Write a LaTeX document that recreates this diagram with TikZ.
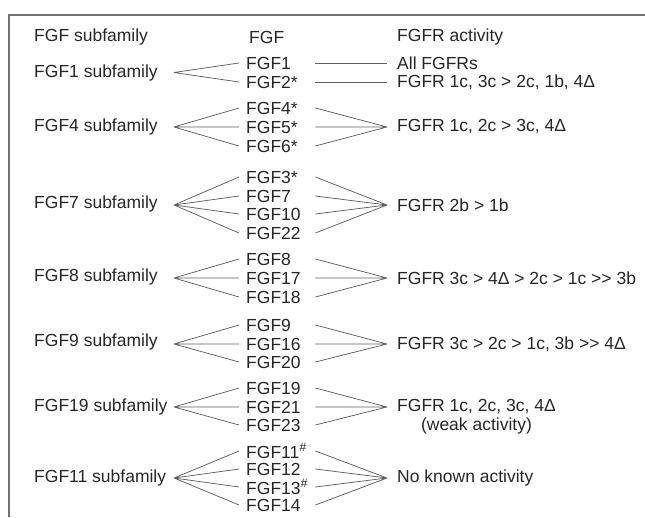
\documentclass[tikz,border=0pt]{standalone}
\usepackage{fontspec}
\setmainfont{Liberation Sans}
\usetikzlibrary{positioning}

\begin{document}
\begin{tikzpicture}[x=1pt,y=-1pt,
    font=\fontsize{17.5}{19}\selectfont, text=black!85,
    lbl/.style={anchor=west, inner sep=0pt},
    fgf/.style={anchor=west, text width=62pt, inner xsep=7pt, inner ysep=0pt, align=left},
    act/.style={anchor=west, inner xsep=10pt, inner ysep=0pt},
    link/.style={draw=black!62, line width=0.75pt}]
    \useasboundingbox (0,0) rectangle (645,517);
    \draw[black!55, line width=1.2pt] (645,15) -- (9,15) -- (9,517);
    % column heads
    \node[lbl] (hsub) at (34,37) {FGF subfamily};
    \node[lbl] (hfgf) at (249,37) {FGF};
    \node[lbl] (hact) at (397,37) {FGFR activity};
    % FGF1 subfamily
    \node[lbl] (sub1) at (34,72.5) {FGF1 subfamily};
    \coordinate (l1) at (174,72.5);
    \node[fgf] (fgf1) at (239,63) {FGF1};
    \node[fgf] (fgf2) at (239,82) {FGF2*};
    \node[act] (act1a) at (387,63) {All FGFRs};
    \node[act] (act1b) at (387,82) {FGFR 1c, 3c > 2c, 1b, 4Δ};
    \draw[link] (l1) -- (fgf1.west) (l1) -- (fgf2.west);
    \draw[link] (fgf1.east) -- (act1a.west) (fgf2.east) -- (act1b.west);
    % FGF4 subfamily
    \node[lbl] (sub4) at (34,127) {FGF4 subfamily};
    \coordinate (l4) at (174,127);
    \node[fgf] (fgf4) at (239,108) {FGF4*};
    \node[fgf] (fgf5) at (239,127) {FGF5*};
    \node[fgf] (fgf6) at (239,146) {FGF6*};
    \node[act] (act4) at (387,127) {FGFR 1c, 2c > 3c, 4Δ};
    \draw[link] (l4) -- (fgf4.west) (l4) -- (fgf5.west) (l4) -- (fgf6.west);
    \draw[link] (fgf4.east) -- (act4.west) (fgf5.east) -- (act4.west) (fgf6.east) -- (act4.west);
    % FGF7 subfamily
    \node[lbl] (sub7) at (34,204) {FGF7 subfamily};
    \coordinate (l7) at (174,205);
    \node[fgf] (fgf3) at (239,177) {FGF3*};
    \node[fgf] (fgf7) at (239,196) {FGF7};
    \node[fgf] (fgf10) at (239,214) {FGF10};
    \node[fgf] (fgf22) at (239,233) {FGF22};
    \node[act] (act7) at (387,205) {FGFR 2b > 1b};
    \draw[link] (l7) -- (fgf3.west) (l7) -- (fgf7.west) (l7) -- (fgf10.west) (l7) -- (fgf22.west);
    \draw[link] (fgf3.east) -- (act7.west) (fgf7.east) -- (act7.west) (fgf10.east) -- (act7.west) (fgf22.east) -- (act7.west);
    % FGF8 subfamily
    \node[lbl] (sub8) at (34,277) {FGF8 subfamily};
    \coordinate (l8) at (174,278);
    \node[fgf] (fgf8) at (239,259) {FGF8};
    \node[fgf] (fgf17) at (239,278) {FGF17};
    \node[fgf] (fgf18) at (239,297) {FGF18};
    \node[act] (act8) at (387,278) {FGFR 3c > 4Δ > 2c > 1c >{}> 3b};
    \draw[link] (l8) -- (fgf8.west) (l8) -- (fgf17.west) (l8) -- (fgf18.west);
    \draw[link] (fgf8.east) -- (act8.west) (fgf17.east) -- (act8.west) (fgf18.east) -- (act8.west);
    % FGF9 subfamily
    \node[lbl] (sub9) at (34,342) {FGF9 subfamily};
    \coordinate (l9) at (174,344);
    \node[fgf] (fgf9) at (239,325) {FGF9};
    \node[fgf] (fgf16) at (239,344) {FGF16};
    \node[fgf] (fgf20) at (239,362) {FGF20};
    \node[act] (act9) at (387,344) {FGFR 3c > 2c > 1c, 3b >{}> 4Δ};
    \draw[link] (l9) -- (fgf9.west) (l9) -- (fgf16.west) (l9) -- (fgf20.west);
    \draw[link] (fgf9.east) -- (act9.west) (fgf16.east) -- (act9.west) (fgf20.east) -- (act9.west);
    % FGF19 subfamily
    \node[lbl] (sub19) at (34,407) {FGF19 subfamily};
    \coordinate (l19) at (174,407);
    \node[fgf] (fgf19) at (239,388) {FGF19};
    \node[fgf] (fgf21) at (239,407) {FGF21};
    \node[fgf] (fgf23) at (239,425) {FGF23};
    \node[act] (act19) at (387,407) {FGFR 1c, 2c, 3c, 4Δ};
    \node[inner sep=0pt, below=3pt of act19] (weak) {(weak activity)};
    \draw[link] (l19) -- (fgf19.west) (l19) -- (fgf21.west) (l19) -- (fgf23.west);
    \draw[link] (fgf19.east) -- (act19.west) (fgf21.east) -- (act19.west) (fgf23.east) -- (act19.west);
    % FGF11 subfamily
    \node[lbl] (sub11) at (34,478) {FGF11 subfamily};
    \coordinate (l11) at (174,478);
    \node[fgf] (fgf11) at (239,451) {FGF11\textsuperscript{\textit{\#}}};
    \node[fgf] (fgf12) at (239,469) {FGF12};
    \node[fgf] (fgf13) at (239,487) {FGF13\textsuperscript{\textit{\#}}};
    \node[fgf] (fgf14) at (239,505) {FGF14};
    \node[act] (act11) at (387,478) {No known activity};
    \draw[link] (l11) -- (fgf11.west) (l11) -- (fgf12.west) (l11) -- (fgf13.west) (l11) -- (fgf14.west);
    \draw[link] (fgf11.east) -- (act11.west) (fgf12.east) -- (act11.west) (fgf13.east) -- (act11.west) (fgf14.east) -- (act11.west);
\end{tikzpicture}
\end{document}
